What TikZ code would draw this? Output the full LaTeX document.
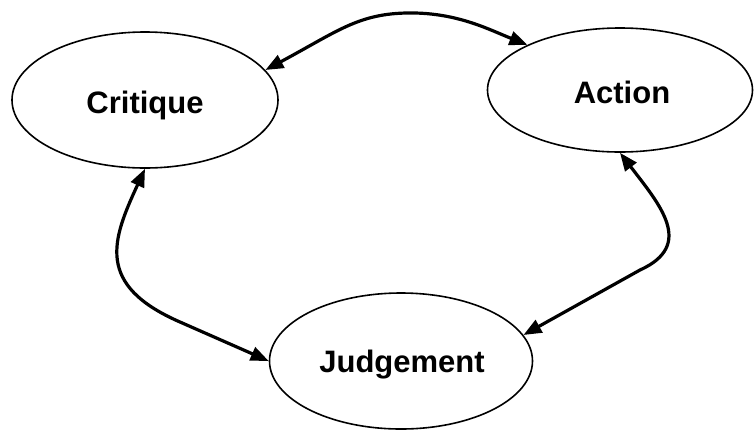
\documentclass[tikz,border=0pt]{standalone}
\usepackage{fontspec}
\setmainfont{Liberation Sans}
\usetikzlibrary{shapes.geometric,arrows.meta}
\begin{document}
\begin{tikzpicture}[x=1pt,y=-1pt,
  stage/.style={ellipse, draw, line width=1.6pt, inner sep=0pt,
    font=\bfseries\fontsize{30}{36}\selectfont},
  label/.style={font=\bfseries\fontsize{31}{36}\selectfont, inner sep=0pt},
  link/.style={line width=3.2pt, {Triangle[length=18pt,width=14pt]}-{Triangle[length=18pt,width=14pt]}}]
\useasboundingbox (0,0) rectangle (754,429);
\node[stage, minimum width=266pt, minimum height=136pt] (crit) at (145,100) {};
\node[stage, minimum width=265pt, minimum height=124pt] (act) at (620,90) {};
\node[stage, minimum width=263pt, minimum height=136pt] (judg) at (401,361) {};
\node[label, anchor=base] (critt) at (145,113) {Critique};
\node[label, anchor=base] (actt) at (622,103) {Action};
\node[label, anchor=base] (judgt) at (402,372) {Judgement};
\coordinate (top) at (415,13);
\coordinate (lb) at (180,322);
\coordinate (rb) at (640,270);
\draw[link] (crit.14) .. controls (340,30) and (360,12) .. (top)
  .. controls (460,14) and (490,30) .. (act.154);
\draw[link] (crit.south) .. controls (112,240) and (95,285) .. (lb) -- (judg.west);
\draw[link] (act.south) .. controls (660,205) and (695,245) .. (rb) -- (judg.12);
\end{tikzpicture}
\end{document}
